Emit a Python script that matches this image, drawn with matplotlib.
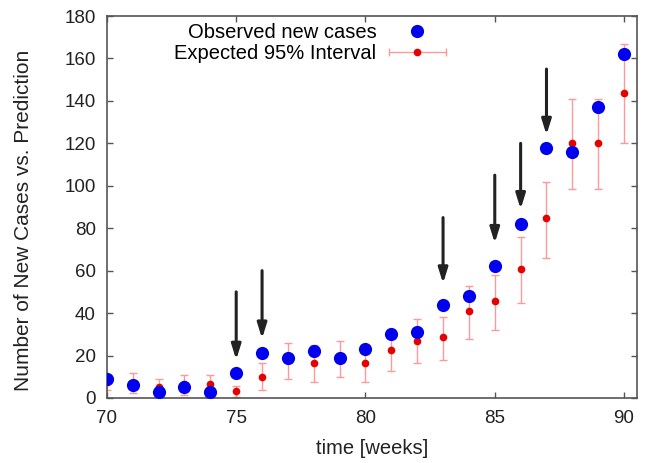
import matplotlib
matplotlib.use("Agg")
import matplotlib.pyplot as plt
from matplotlib.lines import Line2D
from matplotlib.legend_handler import HandlerLine2D, HandlerTuple
import numpy as np

plt.rcParams['font.family'] = ['Liberation Sans', 'DejaVu Sans']

# weekly data
weeks = [70, 71, 72, 73, 74, 75, 76, 77, 78, 79, 80,
         81, 82, 83, 84, 85, 86, 87, 88, 89, 90]
observed = [9, 6, 3, 5, 3, 12, 21, 19, 22, 19, 23,
            30, 31, 44, 48, 62, 82, 118, 116, 137, 162]
expected = [7.5, 7, 5, 6.5, 6.5, 3.3, 10, 18, 16.5, 19, 16.5,
            22.6, 27, 28.7, 41, 45.7, 61, 85, 120, 120, 143.7]
expected_low = [4, 2.4, 1, 1.5, 1.5, 0.5, 4, 9, 7.5, 10, 7.5,
                12.7, 16.5, 18, 28, 32, 45, 66, 98.5, 98.5, 120]
expected_high = [10, 12, 9, 11, 11, 5.7, 16.5, 26, 25, 27, 25,
                 32, 37, 38, 53, 58, 76, 102, 141, 141, 167]

# weeks flagged as outbreaks, with arrow start/end heights
alert_weeks = [75, 76, 83, 85, 86, 87]
arrow_tail = [50, 60, 85, 105, 120, 155]
arrow_tip = [18, 28, 54, 73, 89, 124]

x_ticks = [70, 75, 80, 85, 90]
y_ticks = [0, 20, 40, 60, 80, 100, 120, 140, 160, 180]

BLUE = '#0000ee'
RED = '#e60000'
PINK = (1.0, 0.6, 0.6)
DARK = '#222222'

fig = plt.figure(figsize=(6.48, 4.63), dpi=100)
ax = fig.add_axes([0.165, 0.1404, 0.818, 0.825])

exp = np.array(expected)
yerr = np.vstack([exp - np.array(expected_low), np.array(expected_high) - exp])

ax.errorbar(weeks, expected, yerr=yerr, fmt='o', color=RED,
            markersize=4.5, ecolor=PINK, elinewidth=1.0,
            capsize=2.8, capthick=1.0, zorder=2)
ax.plot(weeks, observed, 'o', color=BLUE, markersize=9.5,
        markeredgewidth=0, zorder=3)

for wx, t0, t1 in zip(alert_weeks, arrow_tail, arrow_tip):
    ax.annotate('', xy=(wx, t1), xytext=(wx, t0),
                arrowprops=dict(arrowstyle='-|>,head_width=0.28,head_length=0.9',
                                color=DARK, lw=2.2, shrinkA=0, shrinkB=0),
                zorder=4)

ax.set_xlim(70, 90.5)
ax.set_ylim(0, 180)
ax.set_xticks(x_ticks)
ax.set_yticks(y_ticks)
ax.tick_params(direction='in', length=4, width=1, color='#555555',
               top=True, right=True, labelsize=13.5, labelcolor=DARK)
ax.tick_params(axis='x', pad=9)
ax.tick_params(axis='y', pad=8)
for sp in ax.spines.values():
    sp.set_color('#555555')
    sp.set_linewidth(1.2)

ax.set_xlabel('time [weeks]', fontsize=14.5, color=DARK)
ax.set_ylabel('Number of New Cases vs. Prediction', fontsize=15,
              color=DARK)
ax.xaxis.set_label_coords(0.5, -0.108)
ax.yaxis.set_label_coords(-0.14, 0.465)

# legend: horizontal interval bar with caps, with the point on top
obs_handle = Line2D([], [], color=BLUE, marker='o', markersize=9.5,
                    markeredgewidth=0, linestyle='')
bar_handle = Line2D([], [], color=PINK, marker='|', markersize=6,
                    markeredgewidth=1.0, linewidth=1.0)
dot_handle = Line2D([], [], color=RED, marker='o', markersize=4.5,
                    linestyle='')
ax.legend([obs_handle, (bar_handle, dot_handle)],
          ['Observed new cases', 'Expected 95% Interval'],
          handler_map={bar_handle: HandlerLine2D(numpoints=2, marker_pad=0),
                       tuple: HandlerTuple(ndivide=1, pad=0)},
          loc='upper right', bbox_to_anchor=(446 / 648, 1 - 23 / 463),
          bbox_transform=fig.transFigure, frameon=False, markerfirst=False,
          fontsize=14.5, handlelength=2.85, handletextpad=0.6,
          labelspacing=0.1, borderpad=0, borderaxespad=0)

fig.savefig('out.png', dpi=100)
